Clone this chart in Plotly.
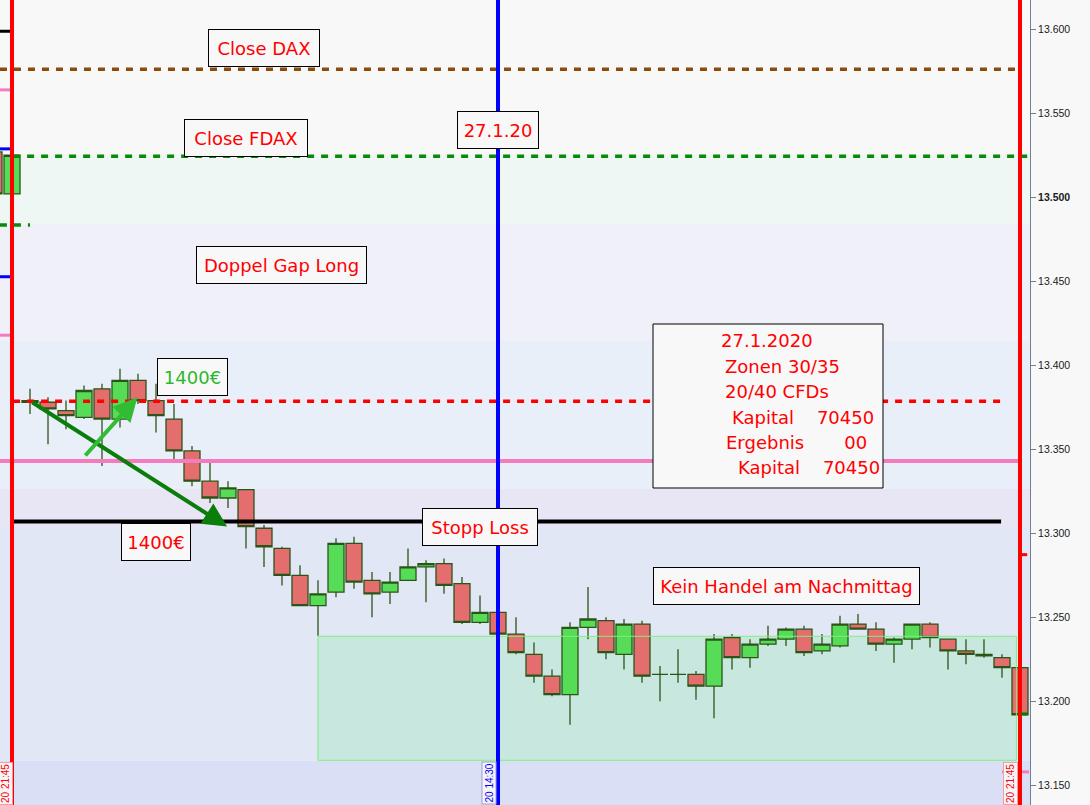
import plotly.graph_objects as go

# ---------------- data ----------------
candle_idx = list(range(-2, 56))   # 15-min candles, 0 = 08:00, 55 = 21:45
opens = [13527, 13502, 13378, 13378, 13373, 13369, 13386, 13368, 13391, 13379,
         13368, 13349, 13331, 13321, 13326, 13303, 13291, 13275, 13257, 13265,
         13294, 13272, 13265, 13272, 13280, 13282, 13270, 13247, 13253, 13240,
         13228, 13215, 13204, 13244, 13248, 13228, 13246, 13216, 13216, 13216,
         13209, 13238, 13226, 13234, 13237, 13243, 13230, 13233, 13246, 13243,
         13234, 13237, 13246, 13237, 13230, 13228, 13226, 13220]
highs = [13529, 13526, 13386, 13381, 13379, 13388, 13389, 13398, 13395, 13389,
         13377, 13352, 13344, 13331, 13326, 13305, 13292, 13281, 13272, 13297,
         13298, 13277, 13277, 13291, 13284, 13285, 13274, 13263, 13254, 13250,
         13235, 13219, 13247, 13268, 13250, 13249, 13248, 13221, 13231, 13218,
         13240, 13240, 13237, 13245, 13244, 13245, 13240, 13251, 13252, 13247,
         13238, 13246, 13247, 13237, 13237, 13237, 13228, 13221]
lows = [13499, 13500, 13371, 13353, 13362, 13368, 13340, 13363, 13377, 13360,
        13344, 13328, 13318, 13315, 13291, 13280, 13269, 13257, 13239, 13262,
        13267, 13250, 13258, 13272, 13259, 13264, 13246, 13246, 13239, 13228,
        13211, 13203, 13186, 13237, 13225, 13219, 13211, 13200, 13211, 13201,
        13190, 13219, 13220, 13233, 13233, 13227, 13228, 13232, 13243, 13230,
        13223, 13231, 13232, 13219, 13222, 13226, 13214, 13191]
closes = [13502, 13525, 13379, 13374, 13370, 13385, 13368, 13391, 13379, 13370,
          13349, 13331, 13321, 13327, 13304, 13292, 13275, 13257, 13264, 13294,
          13271, 13264, 13271, 13280, 13282, 13269, 13247, 13253, 13240, 13229,
          13215, 13204, 13244, 13249, 13229, 13246, 13215, 13216, 13216, 13209,
          13237, 13226, 13234, 13237, 13243, 13229, 13234, 13246, 13243, 13234,
          13237, 13246, 13238, 13230, 13228, 13227, 13220, 13192]

y_ticks = [13150, 13200, 13250, 13300, 13350, 13400, 13450, 13500, 13550, 13600]
y_tick_labels = ["13.150", "13.200", "13.250", "13.300", "13.350", "13.400",
                 "13.450", "<b>13.500</b>", "13.550", "13.600"]

# background price zones (lower bound, upper bound, colour)
zone_lo = [13525.8, 13484.1, 13414.5, 13326.4, 13303.8, 13164.7, 13000]
zone_hi = [13800, 13525.8, 13484.1, 13414.5, 13326.4, 13303.8, 13164.7]
zone_col = ["#f8f8f8", "#eff7f5", "#f0f0f8", "#e9eff8", "#e8e6f5", "#e1e7f5", "#dadff5"]

# horizontal levels: price, x start, x end (candle index units), colour, dash, width
lvl_price = [13576.2, 13524.4, 13378.6, 13343.0, 13307.0,
             13598.8, 13563.9, 13528.8, 13483.5, 13452.7, 13417.9, 13158.0]
lvl_x0 = [-1.67, -0.94, -0.94, -1.67, -0.89, -1.67, -1.67, -1.67, -1.67, -1.67, -1.67, 54.0]
lvl_x1 = [55.1, 55.4, 53.9, 55.0, 53.95, -1.11, -1.11, -1.11, 0.0, -1.11, -1.11, 55.5]
lvl_col = ["#8b4a0e", "#0a8a0a", "#ff0000", "#f47cbe", "#000000",
           "#000000", "#f47cbe", "#0000ff", "#0a8a0a", "#0000ff", "#f47cbe", "#f47cbe"]
lvl_dash = ["7px,7px", "7px,7px", "7px,7px", "solid", "solid",
            "solid", "solid", "solid", "7px,7px", "solid", "solid", "solid"]
lvl_width = [3.5, 3.5, 3.5, 4, 4, 3, 3, 3, 3.5, 3, 3, 3]

# vertical markers (candle index)
vline_x = [-1, 26, 55]
vline_col = ["#ff0000", "#0000ff", "#ff0000"]

# target zone
zone_x0, zone_x1, zone_y0, zone_y1 = 16, 54.8, 13164.9, 13238.7

# trade arrows: (tail index, tail price, tip index, tip price)
arrows = [(0.04, 13378.6, 10.95, 13304.0, "#0a7d0a"),
          (3.0, 13345.4, 5.97, 13381.0, "#33bb33")]

W, H = 1090, 805
PLOT_W = 1030


def px(v):
    return v / PLOT_W


def py(v):
    return 1 - v / H


fig = go.Figure()
fig.add_trace(go.Candlestick(
    x=candle_idx, open=opens, high=highs, low=lows, close=closes,
    increasing=dict(fillcolor="#57dc57", line=dict(color="#2b5518", width=1.3)),
    decreasing=dict(fillcolor="#e46d6d", line=dict(color="#2b5518", width=1.3)),
    whiskerwidth=0, showlegend=False, hoverinfo="skip"))

shapes = []
for lo, hi, c in zip(zone_lo, zone_hi, zone_col):
    shapes.append(dict(type="rect", xref="paper", yref="y", x0=0, x1=1, y0=lo, y1=hi,
                       fillcolor=c, line=dict(width=0), layer="below"))
shapes.append(dict(type="rect", xref="x", yref="y", x0=zone_x0, x1=zone_x1, y0=zone_y0, y1=zone_y1,
                   fillcolor="#c8e8df", line=dict(width=0), layer="below"))
shapes.append(dict(type="rect", xref="x", yref="y", x0=zone_x0, x1=zone_x1, y0=zone_y0, y1=zone_y1,
                   fillcolor="rgba(0,0,0,0)", line=dict(color="#7cf07c", width=1), layer="above"))
for p, a, b, c, d, w in zip(lvl_price, lvl_x0, lvl_x1, lvl_col, lvl_dash, lvl_width):
    shapes.append(dict(type="line", xref="x", yref="y", x0=a, x1=b, y0=p, y1=p,
                       line=dict(color=c, width=w, dash=d), layer="above"))
for xv, c in zip(vline_x, vline_col):
    shapes.append(dict(type="line", xref="x", yref="paper", x0=xv, x1=xv, y0=0, y1=1,
                       line=dict(color=c, width=4), layer="above"))
# small markers on right day line
shapes.append(dict(type="line", xref="x", yref="y", x0=55.05, x1=55.4, y0=13287.3, y1=13287.3,
                   line=dict(color="#ff0000", width=3), layer="above"))
shapes.append(dict(type="line", xref="x", yref="y", x0=55.05, x1=55.4, y0=13192.5, y1=13192.5,
                   line=dict(color="#008000", width=3), layer="above"))
# info box
shapes.append(dict(type="rect", xref="paper", yref="paper", x0=px(653), x1=px(883), y0=py(488), y1=py(324),
                   fillcolor="#f8f8f8", line=dict(color="#000000", width=1), layer="above"))

FONT = "DejaVu Sans, Verdana, sans-serif"
ann = []
boxes = [("Close DAX", 264, 48, 98, "#ff0000"),
         ("Close FDAX", 246, 138, 110, "#ff0000"),
         ("27.1.20", 498, 130, 68, "#ff0000"),
         ("Doppel Gap Long", 281, 265, 157, "#ff0000"),
         ("1400€", 192, 377, 57, "#2db82d"),
         ("1400€", 156, 542, 56, "#ff0000"),
         ("Stopp Loss", 480, 527, 102, "#ff0000"),
         ("Kein Handel am Nachmittag", 786, 586, 253, "#ff0000")]
for t, x, y, w, c in boxes:
    ann.append(dict(text=t, xref="paper", yref="paper", x=px(x), y=py(y), showarrow=False,
                    font=dict(family=FONT, size=18, color=c), bgcolor="#f8f8f8",
                    bordercolor="#000000", borderwidth=1, borderpad=6, width=w, height=24,
                    xanchor="center", yanchor="middle"))

info_lines = ["27.1.2020", "Zonen 30/35", "20/40 CFDs", "Kapital\u00a0\u00a0\u00a0 70450",
              "Ergebnis\u00a0\u00a0\u00a0\u00a0\u00a0\u00a0 00", "Kapital\u00a0\u00a0\u00a0 70450"]
info_x = [719, 723, 723, 730, 724, 736]
info_y = [341, 366, 391, 417, 442, 467]
for t, x, y in zip(info_lines, info_x, info_y):
    ann.append(dict(text=t, xref="paper", yref="paper", x=px(x), y=py(y), showarrow=False,
                    font=dict(family=FONT, size=18, color="#ff0000"),
                    xanchor="left", yanchor="middle"))

for tx, ty, hx, hy, c in arrows:
    ann.append(dict(text="", x=hx, y=hy, ax=tx, ay=ty, xref="x", yref="y", axref="x", ayref="y",
                    showarrow=True, arrowhead=2, arrowsize=1.2, arrowwidth=4, arrowcolor=c, standoff=0))

time_labels = [("20 21:45", 5.5, "#ff0000", "#f0a0a0"),
               ("20 14:30", 489, "#0000ff", "#a0a0d0"),
               ("20 21:45", 1010.5, "#ff0000", "#f0a0a0")]
for t, x, c, bc in time_labels:
    ann.append(dict(text=t, xref="paper", yref="paper", x=px(x), y=py(762), showarrow=False,
                    textangle=-90, font=dict(family="Arial, Liberation Sans", size=10, color=c),
                    bgcolor="#f4f4f8", bordercolor=bc, borderwidth=1, borderpad=1,
                    xanchor="center", yanchor="top"))

fig.update_layout(
    width=W, height=H, margin=dict(l=0, r=60, t=0, b=0),
    paper_bgcolor="#f8f8f8", plot_bgcolor="#f8f8f8",
    shapes=shapes, annotations=ann, showlegend=False, boxgap=0.11, boxgroupgap=0,
    xaxis=dict(range=[-1.667, 55.556], visible=False, rangeslider=dict(visible=False), fixedrange=True),
    yaxis=dict(range=[13138.3, 13617.4], side="right", tickvals=y_ticks, ticktext=y_tick_labels,
               showgrid=False, zeroline=False, ticks="outside", ticklen=5, tickcolor="#708090",
               showline=True, linecolor="#708090", linewidth=1,
               tickfont=dict(family="Arial, Liberation Sans", size=10.5, color="#1a1a1a")),
)

fig.write_html("out.html", config={"displayModeBar": False},
               post_script="document.body.style.margin='0';")
